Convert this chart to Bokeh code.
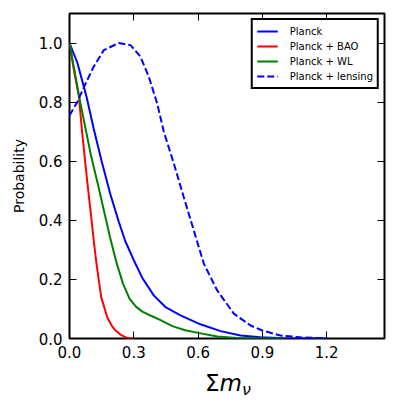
from bokeh.plotting import figure
from bokeh.models import LinearAxis, FixedTicker, Range1d, Div
from bokeh.layouts import column
from bokeh.embed import file_html
from bokeh.resources import INLINE

# ---- data ----
planck_x = [0.0, 0.036, 0.079, 0.113, 0.15, 0.19, 0.23, 0.26, 0.3, 0.34, 0.394, 0.45,
            0.518, 0.611, 0.705, 0.798, 0.891, 1.0, 1.2]
planck_y = [1.0, 0.935, 0.82, 0.71, 0.60, 0.49, 0.395, 0.33, 0.265, 0.205, 0.145, 0.105,
            0.078, 0.048, 0.025, 0.010, 0.004, 0.001, 0.0]

bao_x = [0.0, 0.02, 0.044, 0.058, 0.082, 0.1, 0.113, 0.126, 0.148, 0.176, 0.2, 0.215, 0.24, 0.265, 0.285, 0.3]
bao_y = [1.0, 0.91, 0.818, 0.705, 0.536, 0.42, 0.332, 0.253, 0.140, 0.072, 0.04, 0.027, 0.012, 0.003, 0.0, 0.0]

wl_x = [0.0, 0.025, 0.05, 0.075, 0.1, 0.13, 0.16, 0.19, 0.22, 0.25, 0.28, 0.31, 0.34, 0.38,
        0.42, 0.48, 0.54, 0.6, 0.69, 0.78, 0.9, 1.0]
wl_y = [1.0, 0.90, 0.80, 0.71, 0.62, 0.53, 0.435, 0.34, 0.255, 0.185, 0.135, 0.108, 0.091, 0.077,
        0.064, 0.042, 0.028, 0.019, 0.007, 0.002, 0.0, 0.0]

lens_x = [0.0, 0.036, 0.075, 0.113, 0.16, 0.23, 0.285, 0.331, 0.37, 0.409, 0.44, 0.487, 0.533,
          0.58, 0.627, 0.689, 0.767, 0.845, 0.9, 0.985, 1.078, 1.17, 1.2]
lens_y = [0.755, 0.8, 0.863, 0.920, 0.976, 1.0, 0.993, 0.954, 0.886, 0.796, 0.70, 0.592, 0.479,
          0.366, 0.253, 0.163, 0.084, 0.044, 0.027, 0.010, 0.004, 0.001, 0.0]

series_labels = ["Planck", "Planck + BAO", "Planck + WL", "Planck + lensing"]

xticks = [0.0, 0.3, 0.6, 0.9, 1.2]
xtick_labels = ["0.0", "0.3", "0.6", "0.9", "1.2"]
yticks = [0.0, 0.2, 0.4, 0.6, 0.8, 1.0]
ytick_labels = ["0.0", "0.2", "0.4", "0.6", "0.8", "1.0"]

FONT = "DejaVu Sans"

p = figure(frame_width=315, frame_height=325,
           x_range=Range1d(0, 1.47), y_range=Range1d(0, 1.1),
           output_backend="svg", toolbar_location=None,
           min_border_left=69, min_border_right=10, min_border_top=13, min_border_bottom=30,
           background_fill_color="white", border_fill_color="white")
p.xgrid.visible = False
p.ygrid.visible = False
p.outline_line_color = "black"
p.outline_line_width = 2
p.outline_line_alpha = 1

p.add_layout(LinearAxis(), "above")
p.add_layout(LinearAxis(), "right")

for ax in p.xaxis:
    ax.ticker = FixedTicker(ticks=xticks)
    ax.major_label_overrides = dict(zip(xticks, xtick_labels))
for ax in p.yaxis:
    ax.ticker = FixedTicker(ticks=yticks)
    ax.major_label_overrides = dict(zip(yticks, ytick_labels))

for ax in p.axis:
    ax.axis_line_color = None
    ax.major_tick_in = 7
    ax.major_tick_out = 0
    ax.minor_tick_line_color = None
    ax.major_tick_line_color = "black"
    ax.major_tick_line_width = 1
    ax.major_label_text_font = FONT
    ax.major_label_text_font_size = "15px"
    ax.major_label_text_color = "black"

for ax in (p.above[0], p.right[0]):
    ax.major_label_text_font_size = "1px"
    ax.major_label_text_alpha = 0
    ax.major_label_standoff = 0

p.below[0].major_label_standoff = 7
p.left[0].major_label_standoff = 7
p.left[0].axis_label = "Probability"
p.left[0].axis_label_text_font = FONT
p.left[0].axis_label_text_font_style = "normal"
p.left[0].axis_label_text_font_size = "14px"
p.left[0].axis_label_text_color = "black"
p.left[0].axis_label_standoff = 9

p.line(planck_x, planck_y, line_color="#0000ff", line_width=2, legend_label=series_labels[0])
p.line(bao_x, bao_y, line_color="#ff0000", line_width=2, legend_label=series_labels[1])
p.line(wl_x, wl_y, line_color="#008000", line_width=2, legend_label=series_labels[2])
p.line(lens_x, lens_y, line_color="#0000ff", line_width=2, line_dash="7 3", legend_label=series_labels[3])

lg = p.legend[0]
lg.location = "top_right"
lg.margin = 5
lg.padding = 4
lg.spacing = 1
lg.glyph_width = 21
lg.glyph_height = 14
lg.label_height = 14
lg.label_standoff = 12
lg.label_text_font = FONT
lg.label_text_font_size = "10px"
lg.label_text_color = "black"
lg.border_line_color = "black"
lg.border_line_width = 2
lg.border_line_alpha = 1
lg.background_fill_alpha = 1

xlabel_html = (
    '<div style="font-family:\'DejaVu Sans\'; font-size:23px; line-height:23px; '
    'padding-left:205px; padding-top:4px; color:black; white-space:nowrap;">'
    'Σ<span style="font-style:italic;">m</span>'
    '<span style="font-style:italic; font-size:16px; position:relative; top:4px;">ν</span>'
    '</div>'
)
xlabel = Div(text=xlabel_html, width=394, height=40, margin=(0, 0, 0, 0))

layout = column(p, xlabel, spacing=0)

open("out.html", "w").write(file_html(layout, INLINE))
